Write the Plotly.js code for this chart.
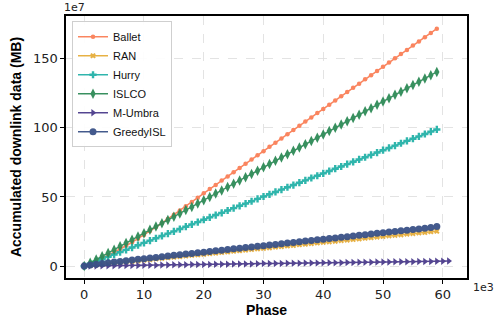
<!DOCTYPE html>
<html>
<head>
<meta charset="utf-8">
<script src="https://cdn.plot.ly/plotly-3.0.1.min.js"></script>
<style>html,body{margin:0;padding:0;background:#fff;}#chart{width:500px;height:325px;}</style>
</head>
<body>
<div id="chart"></div>
<script>
// Phase (x 1e3)
const phase = [0,1,2,3,4,5,6,7,8,9,10,11,12,13,14,15,16,17,18,19,20,21,22,23,24,25,26,27,28,29,30,31,32,33,34,35,36,37,38,39,40,41,42,43,44,45,46,47,48,49,50,51,52,53,54,55,56,57,58,59];
const phaseUmbra = [0,1,2,3,4,5,6,7,8,9,10,11,12,13,14,15,16,17,18,19,20,21,22,23,24,25,26,27,28,29,30,31,32,33,34,35,36,37,38,39,40,41,42,43,44,45,46,47,48,49,50,51,52,53,54,55,56,57,58,59,60,61];

// Accumulated downlink data (MB, x 1e7)
const ballet = [0,1.8,3.7,5.7,7.8,10.0,12.3,14.7,17.2,19.8,22.5,25.3,28.2,31.1,34.1,37.1,40.2,43.3,46.4,49.5,52.6,55.7,58.7,61.8,64.8,67.9,70.9,74.0,77.0,80.1,83.1,86.2,89.2,92.3,95.3,98.4,101.4,104.5,107.5,110.6,113.6,116.7,119.7,122.8,125.8,128.9,131.9,135.0,138.0,141.1,144.1,147.2,150.2,153.3,156.3,159.4,162.4,165.5,168.5,171.6];
const ran = [0,0.4,0.9,1.3,1.7,2.1,2.6,3.0,3.4,3.8,4.3,4.7,5.1,5.6,6.0,6.4,6.8,7.3,7.7,8.1,8.5,9.0,9.4,9.8,10.2,10.7,11.1,11.5,12.0,12.4,12.8,13.2,13.7,14.1,14.5,14.9,15.4,15.8,16.2,16.7,17.1,17.5,17.9,18.4,18.8,19.2,19.6,20.1,20.5,20.9,21.4,21.8,22.2,22.6,23.1,23.5,23.9,24.3,24.8,25.2];
const hurry = [0,1.7,3.4,5.0,6.7,8.4,10.1,11.7,13.4,15.1,16.8,18.4,20.1,21.8,23.5,25.1,26.8,28.5,30.2,31.8,33.5,35.2,36.9,38.5,40.2,41.9,43.6,45.2,46.9,48.6,50.3,51.9,53.6,55.3,57.0,58.6,60.3,62.0,63.7,65.3,67.0,68.7,70.4,72.0,73.7,75.4,77.1,78.7,80.4,82.1,83.8,85.4,87.1,88.8,90.5,92.1,93.8,95.5,97.2,98.8];
const islco = [0,2.4,4.8,7.1,9.5,11.9,14.3,16.7,19.0,21.4,23.8,26.2,28.6,30.9,33.3,35.7,38.1,40.5,42.8,45.2,47.6,50.0,52.4,54.7,57.1,59.5,61.9,64.3,66.6,69.0,71.4,73.8,76.2,78.5,80.9,83.3,85.7,88.1,90.4,92.8,95.2,97.6,100.0,102.3,104.7,107.1,109.5,111.9,114.2,116.6,119.0,121.4,123.8,126.1,128.5,130.9,133.3,135.7,138.0,140.4];
const mUmbra = [0,0.1,0.1,0.2,0.2,0.3,0.4,0.4,0.5,0.5,0.6,0.6,0.7,0.8,0.8,0.9,0.9,1.0,1.1,1.1,1.2,1.2,1.3,1.4,1.4,1.5,1.5,1.6,1.6,1.7,1.8,1.8,1.9,1.9,2.0,2.1,2.1,2.2,2.2,2.3,2.4,2.4,2.5,2.5,2.6,2.6,2.7,2.8,2.8,2.9,2.9,3.0,3.1,3.1,3.2,3.2,3.3,3.3,3.4,3.5,3.5,3.6];
const greedy = [0,0.8,1.4,1.9,2.4,2.9,3.4,3.9,4.4,4.9,5.4,5.9,6.3,6.8,7.3,7.8,8.2,8.7,9.2,9.7,10.1,10.6,11.1,11.5,12.0,12.5,12.9,13.4,13.9,14.3,14.8,15.3,15.7,16.2,16.7,17.1,17.6,18.1,18.5,19.0,19.5,19.9,20.4,20.9,21.3,21.8,22.3,22.7,23.2,23.7,24.1,24.6,25.1,25.5,26.0,26.5,26.9,27.4,27.9,28.6];

const xTicks = [0,10,20,30,40,50,60];
const yTicks = [0,50,100,150];

const F = '"DejaVu Sans", Arial, sans-serif';
const FA = '"Liberation Sans", Arial, sans-serif';

function tr(name, x, y, color, symbol, size, lw) {
  return {type:'scatter', mode:'lines+markers', name:name, x:x, y:y,
    line:{color:color, width:lw||1.5},
    marker:{color:color, symbol:symbol, size:size, line:{width:0}},
    opacity:0.95};
}

const data = [
  tr('Ballet', phase, ballet, '#fa7f57', 'circle', 4.5, 1.5),
  tr('RAN', phase, ran, '#e6ad3a', 'x', 5, 1.5),
  tr('Hurry', phase, hurry, '#24b2a8', 'cross', 6, 1.5),
  tr('ISLCO', phase, islco, '#2e8b57', 'diamond-tall', 7.5, 1.5),
  tr('M-Umbra', phaseUmbra, mUmbra, '#4b3c8c', 'triangle-right', 6.5, 1.5),
  tr('GreedyISL', phase, greedy, '#3a5287', 'circle', 7, 1.5)
];

const axisCommon = {
  showline:true, mirror:true, linecolor:'#000', linewidth:1.6,
  ticks:'outside', ticklen:4, tickwidth:1, tickcolor:'#000',
  showgrid:true, gridcolor:'#dcdcdc', griddash:'dash', gridwidth:0.8,
  zeroline:false, tickfont:{family:F, size:13, color:'#222'}
};

const layout = {
  width:500, height:325,
  margin:{l:66, r:33, t:16, b:47},
  paper_bgcolor:'#fff', plot_bgcolor:'#fff',
  showlegend:true,
  legend:{x:0.015, y:0.98, xanchor:'left', yanchor:'top',
    bgcolor:'rgba(255,255,255,0.9)', bordercolor:'#cfcfcf', borderwidth:1,
    font:{family:FA, size:11, color:'#111'}, tracegroupgap:0, itemwidth:30},
  xaxis:Object.assign({}, axisCommon, {range:[-3.05,64.05], tickvals:xTicks, ticktext:xTicks.map(String),
    title:{text:'<b>Phase</b>', font:{family:FA, size:14, color:'#000'}, standoff:2}}),
  yaxis:Object.assign({}, axisCommon, {range:[-8.6,180.8], tickvals:yTicks, ticktext:yTicks.map(String),
    title:{text:'<b>Accumulated downlink data (MB)</b>', font:{family:FA, size:14, color:'#000'}, standoff:8}}),
  annotations:[
    {xref:'paper', yref:'paper', x:0, y:1, xanchor:'left', yanchor:'bottom', yshift:0, xshift:-4,
     text:'1e7', showarrow:false, font:{family:F, size:11, color:'#222'}},
    {xref:'paper', yref:'paper', x:1, y:0, xanchor:'left', yanchor:'top', xshift:4, yshift:-1,
     text:'1e3', showarrow:false, font:{family:F, size:11, color:'#222'}}
  ]
};

Plotly.newPlot('chart', data, layout, {displayModeBar:false, staticPlot:true});
</script>
</body>
</html>
